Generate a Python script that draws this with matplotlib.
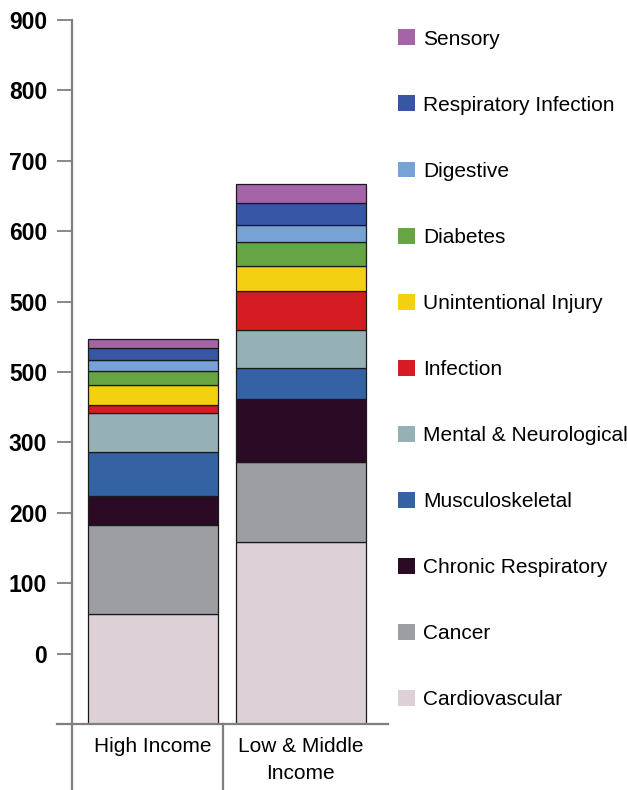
import numpy as np
import matplotlib.pyplot as plt
import matplotlib.transforms as mtransforms
from matplotlib.patches import Patch

plt.rcParams['font.family'] = ['Liberation Sans', 'DejaVu Sans']

groups = ["High Income", "Low & Middle\nIncome"]
causes = ["Cardiovascular", "Cancer", "Chronic Respiratory", "Musculoskeletal",
          "Mental & Neurological", "Infection", "Unintentional Injury", "Diabetes",
          "Digestive", "Respiratory Infection", "Sensory"]
high_income = [156, 127, 41, 63, 55, 11, 28, 21, 15, 17, 13]
low_middle = [258, 114, 89, 44, 55, 55, 35, 35, 24, 31, 27]
colors = ["#DDD0D6", "#9D9EA1", "#2B0A26", "#3562A3", "#95B1B6", "#D41C22",
          "#F4D013", "#67A443", "#76A2D6", "#3757A6", "#A563A8"]

# tick labels as printed on the original axis
tick_vals = [100, 200, 300, 400, 500, 600, 700, 800, 900, 1000]
tick_labels = ["0", "100", "200", "300", "500", "500", "600", "700", "800", "900"]

fig = plt.figure(figsize=(6.27, 7.90), dpi=100)
ax = fig.add_axes([72/627, 66/790, 316/627, 704/790])

x = np.arange(len(groups))
vals = np.array([high_income, low_middle])
bottom = np.zeros(len(groups))
for i, (c, col) in enumerate(zip(causes, colors)):
    ax.bar(x, vals[:, i], 0.88, bottom=bottom, color=col, edgecolor="#1a1a1a", lw=0.9)
    bottom += vals[:, i]

ax.set_xlim(-0.548, 1.591)
ax.set_ylim(0, 1000)
for s in ax.spines.values():
    s.set_visible(False)

ax.set_yticks(tick_vals, tick_labels, fontweight="bold", fontsize=16.5)
ax.tick_params(axis="y", length=11, width=1.3, color="#7f7f7f", pad=7)
ax.set_xticks(x, groups, fontsize=15, linespacing=1.55)
ax.tick_params(axis="x", length=0, pad=9)

# axis lines drawn by hand so they run past the plot frame
gray = "#7f7f7f"
ax.plot([0, 0], [-0.094, 1], transform=ax.transAxes, color=gray, lw=1.6, clip_on=False)
ax.plot([-0.048, 1], [0, 0], transform=ax.transAxes, color=gray, lw=1.6, clip_on=False)
blend = mtransforms.blended_transform_factory(ax.transData, ax.transAxes)
ax.plot([0.474, 0.474], [-0.094, 0], transform=blend, color=gray, lw=1.6, clip_on=False)

handles = [Patch(facecolor=c, edgecolor="none") for c in colors[::-1]]
fig.legend(handles, causes[::-1], loc="upper left", bbox_to_anchor=(390/627, 1 - 21/790),
           frameon=False, fontsize=15, handlelength=0.8, handleheight=0.8,
           handletextpad=0.4, labelspacing=2.25, borderaxespad=0)

fig.savefig("out.png", dpi=100)
